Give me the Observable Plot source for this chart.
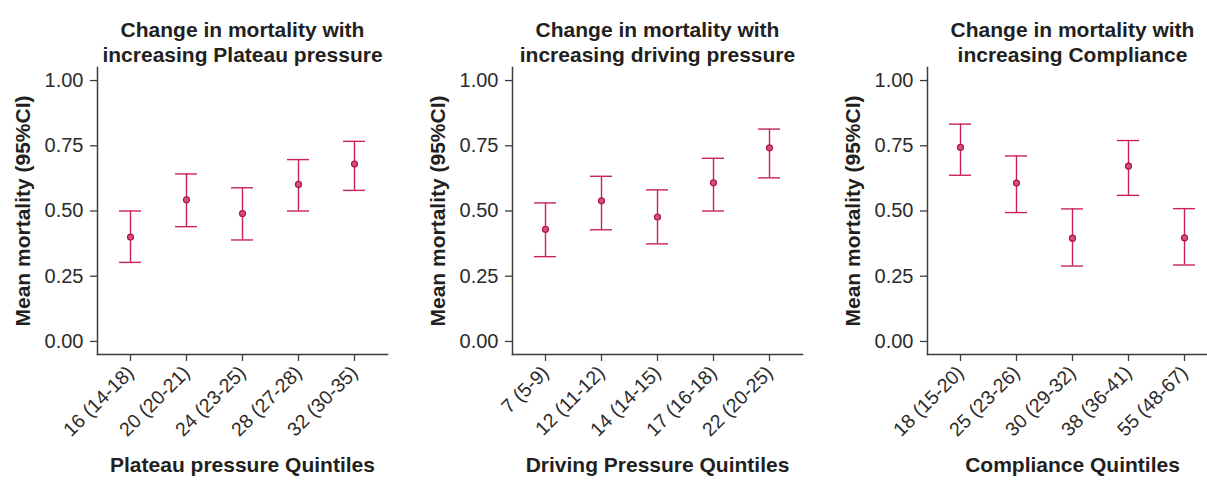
<!DOCTYPE html>
<html>
<head>
<meta charset="utf-8">
<script src="https://cdn.jsdelivr.net/npm/d3@7"></script>
<script src="https://cdn.jsdelivr.net/npm/@observablehq/plot@0.6"></script>
<style>
  html, body { margin: 0; padding: 0; background: #fff; width: 1207px; height: 482px; overflow: hidden; }
  #wrap { position: relative; width: 1207px; height: 482px; }
  .panel { position: absolute; top: 0; }
</style>
</head>
<body>
<div id="wrap"></div>
<script>
const yTicks = [0, 0.25, 0.5, 0.75, 1];

const plateauCats = ["16 (14-18)", "20 (20-21)", "24 (23-25)", "28 (27-28)", "32 (30-35)"];
const plateauMean = [0.400, 0.543, 0.490, 0.602, 0.680];
const plateauLo   = [0.303, 0.440, 0.389, 0.500, 0.579];
const plateauHi   = [0.500, 0.642, 0.589, 0.697, 0.767];

const drivingCats = ["7 (5-9)", "12 (11-12)", "14 (14-15)", "17 (16-18)", "22 (20-25)"];
const drivingMean = [0.430, 0.539, 0.477, 0.608, 0.742];
const drivingLo   = [0.325, 0.428, 0.374, 0.500, 0.627];
const drivingHi   = [0.531, 0.633, 0.581, 0.702, 0.814];

const complianceCats = ["18 (15-20)", "25 (23-26)", "30 (29-32)", "38 (36-41)", "55 (48-67)"];
const complianceMean = [0.744, 0.607, 0.396, 0.672, 0.397];
const complianceLo   = [0.637, 0.494, 0.289, 0.560, 0.293];
const complianceHi   = [0.833, 0.711, 0.508, 0.770, 0.509];

const panels = [
  {left: 0,   width: 400, marginLeft: 97,  marginRight: 13, cats: plateauCats, mean: plateauMean, lo: plateauLo, hi: plateauHi,
   title1: "Change in mortality with", title2: "increasing Plateau pressure", xLabel: "Plateau pressure Quintiles"},
  {left: 400, width: 410, marginLeft: 112, marginRight: 8, cats: drivingCats, mean: drivingMean, lo: drivingLo, hi: drivingHi,
   title1: "Change in mortality with", title2: "increasing driving pressure", xLabel: "Driving Pressure Quintiles"},
  {left: 800, width: 417, marginLeft: 127, marginRight: 0, cats: complianceCats, mean: complianceMean, lo: complianceLo, hi: complianceHi,
   title1: "Change in mortality with", title2: "increasing Compliance", xLabel: "Compliance Quintiles"}
];

const RED = "#c8215f";
const INK = "#231f20";
const AXIS = "#3d3d3d";

for (const p of panels) {
  const data = p.cats.map((c, i) => ({cat: c, mean: p.mean[i], lo: p.lo[i], hi: p.hi[i]}));
  const chart = Plot.plot({
    width: p.width,
    height: 482,
    marginTop: 67,
    marginBottom: 128,
    marginLeft: p.marginLeft,
    marginRight: p.marginRight,
    style: {fontFamily: "'Liberation Sans', Arial, sans-serif", fontSize: "20px", color: INK, background: "transparent", overflow: "visible"},
    x: {type: "band", domain: p.cats, paddingInner: 0.61, paddingOuter: 0.39, axis: null},
    y: {domain: [-0.05, 1.05], axis: null},
    marks: [
      Plot.frame({anchor: "left", stroke: AXIS, strokeWidth: 1.5}),
      Plot.frame({anchor: "bottom", stroke: AXIS, strokeWidth: 1.5}),
      Plot.axisY({ticks: yTicks, tickFormat: d3.format(".2f"), tickSize: 7, tickPadding: 7, stroke: AXIS, strokeWidth: 1.3, fill: "#2b2b2b", fontSize: 20, label: null}),
      Plot.axisX({tickRotate: -45, tickSize: 7, tickPadding: 8, stroke: AXIS, strokeWidth: 1.3, fill: "#2b2b2b", fontSize: 19.5, label: null}),
      Plot.ruleX(data, {x: "cat", y1: "lo", y2: "hi", stroke: RED, strokeWidth: 1.4}),
      Plot.tickY(data, {x: "cat", y: "lo", stroke: RED, strokeWidth: 1.4}),
      Plot.tickY(data, {x: "cat", y: "hi", stroke: RED, strokeWidth: 1.4}),
      Plot.dot(data, {x: "cat", y: "mean", r: 3, fill: "#d3507f", stroke: "#b3124e", strokeWidth: 1.2}),
      Plot.text([p.title1], {frameAnchor: "top", dy: -45.7, fontWeight: "bold", fontSize: 21, fill: INK}),
      Plot.text([p.title2], {frameAnchor: "top", dy: -20.7, fontWeight: "bold", fontSize: 21, fill: INK}),
      Plot.text([p.xLabel], {frameAnchor: "bottom", dy: 117, fontWeight: "bold", fontSize: 21, fill: INK}),
      Plot.text(["Mean mortality (95%CI)"], {frameAnchor: "left", dx: -74, rotate: -90, textAnchor: "middle", fontWeight: "bold", fontSize: 21, fill: INK})
    ]
  });
  chart.classList.add("panel");
  chart.style.left = p.left + "px";
  document.getElementById("wrap").appendChild(chart);
}
</script>
</body>
</html>
